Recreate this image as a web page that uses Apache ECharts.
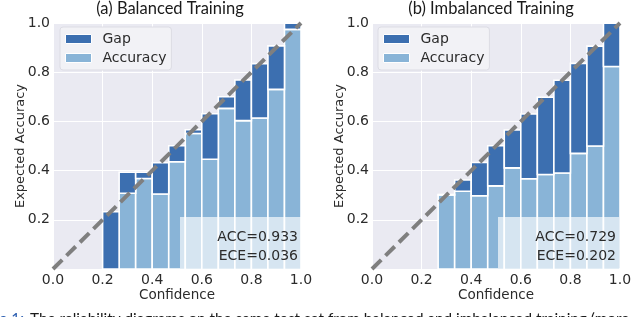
<!DOCTYPE html>
<html>
<head>
<meta charset="utf-8">
<script src="https://cdn.jsdelivr.net/npm/echarts@6/dist/echarts.min.js"></script>
<style>html,body{margin:0;padding:0;background:#fff;}#c{width:640px;height:317px;}</style>
</head>
<body>
<div id="c"></div>
<script>
// 15 equal-width confidence bins
const binCount = 15;
const titles = ['(a) Balanced Training', '(b) Imbalanced Training'];
const statsA = ['ACC=0.933', 'ECE=0.036'];
const statsB = ['ACC=0.729', 'ECE=0.202'];
const xTicks = [0.0, 0.2, 0.4, 0.6, 0.8, 1.0];
const yTicks = [0.2, 0.4, 0.6, 0.8, 1.0];
// per-bin accuracy (light bar top) and gap top (dark bar top); null = empty bin
const accA = [null, null, null, 0.0, 0.308, 0.368, 0.305, 0.436, 0.551, 0.446, 0.653, 0.603, 0.614, 0.730, 0.974];
const topA = [null, null, null, 0.233, 0.393, 0.393, 0.432, 0.501, 0.566, 0.631, 0.700, 0.768, 0.835, 0.907, 0.999];
const accB = [null, null, null, null, 0.301, 0.316, 0.298, 0.338, 0.411, 0.367, 0.384, 0.390, 0.470, 0.500, 0.823];
const topB = [null, null, null, null, 0.303, 0.362, 0.433, 0.501, 0.565, 0.630, 0.698, 0.767, 0.836, 0.906, 0.999];

const GAP_C = '#3C6FB0', ACC_C = '#89B4D7';
const FONT = 'DejaVu Sans';
const TXT = '#2b2b2b';

function accData(acc) {
  const out = [];
  acc.forEach((a, i) => { if (a !== null && a > 0) out.push([i / binCount, (i + 1) / binCount, 0, a]); });
  return out;
}
function gapData(acc, top) {
  const out = [];
  acc.forEach((a, i) => { if (a !== null && top[i] > a) out.push([i / binCount, (i + 1) / binCount, a, top[i]]); });
  return out;
}
function rectRender(color) {
  return function (params, api) {
    const p0 = api.coord([api.value(0), api.value(3)]);
    const p1 = api.coord([api.value(1), api.value(2)]);
    return {
      type: 'rect',
      shape: { x: p0[0], y: p0[1], width: p1[0] - p0[0], height: p1[1] - p0[1] },
      style: { fill: color, stroke: '#ffffff', lineWidth: 1.6 }
    };
  };
}

const grids = [
  { left: 53, top: 23, width: 248, height: 246 },
  { left: 372, top: 23, width: 248, height: 246 }
];

function xAx(i) {
  return {
    type: 'value', gridIndex: i, min: 0, max: 1, interval: 0.2,
    name: 'Confidence', nameLocation: 'middle', nameGap: 19, nameMoveOverlap: false,
    nameTextStyle: { fontFamily: FONT, fontSize: 13.5, color: TXT },
    axisLine: { show: false }, axisTick: { show: false },
    axisLabel: { fontFamily: FONT, fontSize: 14, color: TXT, margin: 4,
      formatter: v => (xTicks.some(t => Math.abs(t - v) < 1e-6) ? v.toFixed(1) : '') },
    splitLine: { show: true, lineStyle: { color: '#ffffff', width: 1 } }
  };
}
function yAx(i) {
  return {
    type: 'value', gridIndex: i, min: 0, max: 1, interval: 0.2,
    name: 'Expected Accuracy', nameLocation: 'middle', nameGap: 26, nameRotate: 90, nameMoveOverlap: false,
    nameTextStyle: { fontFamily: FONT, fontSize: 13, color: TXT },
    axisLine: { show: false }, axisTick: { show: false },
    axisLabel: { fontFamily: FONT, fontSize: 14, color: TXT, margin: 3,
      formatter: v => (yTicks.some(t => Math.abs(t - v) < 1e-6) ? v.toFixed(1) : '') },
    splitLine: { show: true, lineStyle: { color: '#ffffff', width: 1 } }
  };
}

const series = [];
[[accA, topA], [accB, topB]].forEach(([acc, top], i) => {
  series.push({ name: 'Accuracy', type: 'custom', xAxisIndex: i, yAxisIndex: i,
    renderItem: rectRender(ACC_C), itemStyle: { color: ACC_C }, encode: { x: [0, 1], y: [2, 3] },
    data: accData(acc), z: 2, clip: true });
  series.push({ name: 'Gap', type: 'custom', xAxisIndex: i, yAxisIndex: i,
    renderItem: rectRender(GAP_C), itemStyle: { color: GAP_C }, encode: { x: [0, 1], y: [2, 3] },
    data: gapData(acc, top), z: 3, clip: true });
  series.push({ type: 'line', xAxisIndex: i, yAxisIndex: i, data: [[0, 0], [1, 1]],
    symbol: 'none', silent: true, z: 5, clip: true,
    lineStyle: { color: '#7f7f7f', width: 4, type: [13, 6] } });
});

function legend(left) {
  return {
    left: left, top: 27, orient: 'vertical', data: ['Gap', 'Accuracy'],
    icon: 'rect', itemWidth: 26, itemHeight: 9, itemGap: 5,
    padding: [5, 5, 5, 5],
    backgroundColor: '#F2F2F6', borderColor: '#DCDCE4', borderWidth: 1, borderRadius: 3,
    itemStyle: { borderColor: '#ffffff', borderWidth: 1 },
    textStyle: { fontFamily: FONT, fontSize: 14, color: TXT, padding: [0, 0, 0, 6] },
    selectedMode: false
  };
}

function statBox(x0, x1, lines) {
  return [
    { type: 'rect', shape: { x: x0, y: 217, width: x1 - x0, height: 51 },
      style: { fill: 'rgba(255,255,255,0.65)' }, z: 10 },
    { type: 'text', x: x1 - 3, y: 237, z: 11,
      style: { text: lines[0], fontFamily: FONT, fontSize: 14, fill: TXT, textAlign: 'right', textVerticalAlign: 'middle' } },
    { type: 'text', x: x1 - 3, y: 256, z: 11,
      style: { text: lines[1], fontFamily: FONT, fontSize: 14, fill: TXT, textAlign: 'right', textVerticalAlign: 'middle' } }
  ];
}

const graphic = [
  { type: 'text', x: 170, y: 9, style: { text: titles[0], fontFamily: 'Lato', fontSize: 16.5, fill: '#1a1a1a', textAlign: 'center', textVerticalAlign: 'middle' } },
  { type: 'text', x: 491, y: 9, style: { text: titles[1], fontFamily: 'Lato', fontSize: 16.5, fill: '#1a1a1a', textAlign: 'center', textVerticalAlign: 'middle' } },
  ...statBox(180, 301, statsA),
  ...statBox(498, 619, statsB),
  { type: 'text', x: 24, y: 312, style: { text: 'Figure 1:', fontFamily: 'Lato', fontSize: 15.3, fill: '#2a5db0', textAlign: 'right', textVerticalAlign: 'top' } },
  { type: 'text', x: 30, y: 312, style: { text: 'The reliability diagrams on the same test set from balanced and imbalanced training (more', fontFamily: 'Lato', fontSize: 15.3, fill: '#1a1a1a', textAlign: 'left', textVerticalAlign: 'top' } }
];

const chart = echarts.init(document.getElementById('c'), null, { renderer: 'canvas' });
chart.setOption({
  animation: false,
  backgroundColor: '#ffffff',
  grid: grids.map(g => Object.assign({ show: true, backgroundColor: '#EAEAF2', borderWidth: 0, containLabel: false }, g)),
  xAxis: [xAx(0), xAx(1)],
  yAxis: [yAx(0), yAx(1)],
  legend: [legend(60), legend(378)],
  series: series,
  graphic: graphic
});
</script>
</body>
</html>
